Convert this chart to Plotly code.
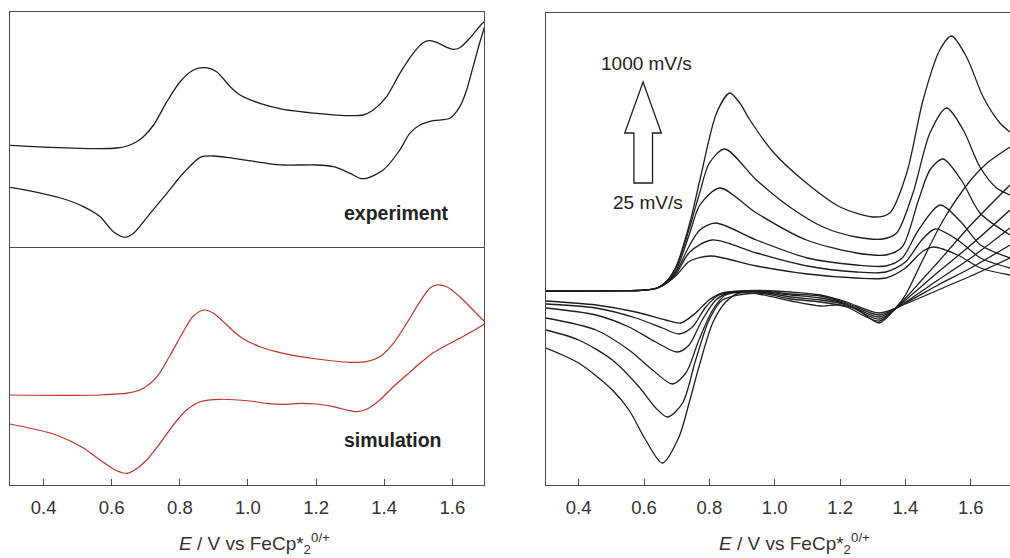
import plotly.graph_objects as go

# ---------------- data (E in V vs FeCp*2 0/+, current in arbitrary units) ----------------
# Left top: experiment (forward scan then reverse scan)
exp_fwd_E = [0.302, 0.42, 0.566, 0.615, 0.645, 0.672, 0.693, 0.723, 0.762, 0.801, 0.84, 0.876, 0.908, 0.948,
             0.977, 1.035, 1.104, 1.202, 1.30, 1.338, 1.368, 1.407, 1.446, 1.485, 1.514, 1.534, 1.554,
             1.584, 1.602, 1.622, 1.651, 1.69, 1.70]
exp_fwd_i = [101.7, 99.7, 98.4, 99.0, 101.0, 105.0, 110.3, 122.0, 145.3, 165.3, 177.0, 179.3, 175.3, 160.3,
             152.0, 143.7, 137.7, 133.7, 131.3, 132.0, 137.0, 150.3, 173.7, 193.7, 204.3, 206.3, 204.7,
             199.7, 197.7, 199.3, 208.7, 224.3, 226.0]
exp_rev_E = [1.70, 1.68, 1.661, 1.642, 1.622, 1.593, 1.544, 1.505, 1.475, 1.446, 1.397, 1.348, 1.329,
             1.30, 1.251, 1.202, 1.105, 1.055, 0.957, 0.899, 0.86, 0.81, 0.762, 0.713, 0.664, 0.64,
             0.605, 0.566, 0.517, 0.469, 0.371, 0.302]
exp_rev_i = [226.0, 203.7, 180.3, 157.0, 140.3, 128.7, 126.3, 122.0, 113.7, 97.0, 77.0, 68.7, 68.7,
             73.7, 80.3, 82.0, 82.0, 83.7, 88.7, 91.0, 89.7, 73.7, 53.7, 33.7, 13.7, 9.7,
             15.3, 30.3, 40.3, 47.0, 55.3, 59.7]

# Left bottom: simulation
sim_fwd_E = [0.302, 0.566, 0.654, 0.693, 0.733, 0.772, 0.81, 0.84, 0.871, 0.899, 0.938, 0.977, 1.035,
             1.104, 1.202, 1.30, 1.348, 1.387, 1.427, 1.466, 1.505, 1.534, 1.554, 1.584, 1.622, 1.661,
             1.69, 1.70]
sim_fwd_i = [90.0, 90.0, 92.3, 96.7, 108.3, 130.0, 153.3, 169.0, 175.0, 171.7, 160.0, 148.3, 138.3,
             131.7, 126.0, 122.7, 123.3, 128.3, 141.7, 161.7, 183.3, 196.7, 200.0, 198.3, 188.3, 175.0,
             165.0, 162.7]
sim_rev_E = [1.70, 1.69, 1.661, 1.622, 1.584, 1.544, 1.505, 1.466, 1.427, 1.387, 1.348, 1.319, 1.29,
             1.251, 1.202, 1.153, 1.104, 1.055, 1.006, 0.918, 0.86, 0.82, 0.781, 0.742, 0.703, 0.664,
             0.645, 0.615, 0.566, 0.517, 0.469, 0.42, 0.371, 0.302]
sim_rev_i = [162.7, 160.0, 154.3, 146.7, 140.0, 132.3, 121.7, 110.0, 98.3, 85.0, 75.7, 73.3, 75.0,
             78.3, 81.0, 81.7, 80.7, 81.7, 84.0, 85.7, 83.3, 75.0, 60.0, 41.7, 25.0, 14.3,
             11.7, 14.3, 25.0, 37.0, 45.5, 52.0, 56.0, 61.0]

# Right: scan-rate series, fastest (1000 mV/s) first, slowest (25 mV/s) last
scan_labels = ["1000 mV/s", "scan 2", "scan 3", "scan 4", "scan 5", "25 mV/s"]

fwd_E = [
    [0.30, 0.55, 0.60, 0.64, 0.67, 0.70, 0.74, 0.771, 0.822, 0.862, 0.893, 0.924, 0.995, 1.097, 1.20,
     1.301, 1.352, 1.404, 1.454, 1.505, 1.541, 1.587, 1.638, 1.689, 1.72],
    [0.30, 0.55, 0.60, 0.64, 0.67, 0.70, 0.74, 0.771, 0.80, 0.847, 0.944, 1.046, 1.148, 1.25, 1.331,
     1.373, 1.423, 1.475, 1.526, 1.577, 1.628, 1.679, 1.72],
    [0.30, 0.55, 0.60, 0.64, 0.67, 0.70, 0.74, 0.771, 0.832, 0.944, 1.097, 1.25, 1.34, 1.39, 1.44,
     1.475, 1.515, 1.571, 1.628, 1.72],
    [0.30, 0.55, 0.60, 0.64, 0.67, 0.70, 0.74, 0.771, 0.819, 0.944, 1.10, 1.25, 1.34, 1.39, 1.44,
     1.506, 1.57, 1.63, 1.72],
    [0.30, 0.55, 0.60, 0.64, 0.67, 0.70, 0.74, 0.808, 0.944, 1.10, 1.25, 1.34, 1.40, 1.45, 1.491,
     1.56, 1.63, 1.72],
    [0.30, 0.55, 0.60, 0.64, 0.67, 0.70, 0.74, 0.803, 0.944, 1.10, 1.25, 1.34, 1.40, 1.45, 1.486,
     1.56, 1.63, 1.72],
]
fwd_i = [
    [194, 194.3, 194.8, 197, 204, 220, 262, 305, 372, 392, 382, 365, 333, 302, 278,
     268, 272, 312, 385, 435, 449, 428, 388, 362, 353],
    [194, 194.3, 194.8, 197, 204, 219, 258, 293, 322, 336, 305, 278, 258, 248, 246,
     252, 292, 352, 377, 355, 318, 297, 290],
    [194, 194.3, 194.8, 197, 203, 216, 252, 280, 297, 272, 245, 232, 230, 238, 285,
     315, 326, 305, 272, 250],
    [194, 194.3, 194.8, 197, 203, 214, 240, 255, 262, 245, 227, 220, 219, 227, 255,
     280, 263, 240, 227],
    [194, 194.3, 194.8, 197, 202, 212, 233, 245, 232, 219, 213, 213, 223, 245, 256,
     245, 227, 217],
    [194, 194.3, 194.8, 196.5, 202, 210, 224, 229, 219, 211, 207, 207, 217, 233, 238,
     230, 217, 210],
]
rev_E = [
    [1.72, 1.65, 1.60, 1.516, 1.45, 1.40, 1.37, 1.32, 1.25, 1.20, 1.14, 1.05, 0.95, 0.891, 0.85, 0.81,
     0.768, 0.738, 0.707, 0.656, 0.605, 0.554, 0.503, 0.40, 0.30],
    [1.72, 1.60, 1.50, 1.45, 1.40, 1.32, 1.22, 1.14, 1.05, 0.95, 0.84, 0.799, 0.758, 0.718, 0.672,
     0.636, 0.585, 0.503, 0.40, 0.30],
    [1.72, 1.60, 1.50, 1.40, 1.32, 1.22, 1.14, 1.05, 0.95, 0.85, 0.81, 0.768, 0.728, 0.687, 0.626,
     0.554, 0.453, 0.30],
    [1.72, 1.60, 1.50, 1.40, 1.32, 1.22, 1.14, 1.05, 0.95, 0.86, 0.82, 0.778, 0.738, 0.702, 0.636,
     0.554, 0.453, 0.30],
    [1.72, 1.60, 1.50, 1.40, 1.32, 1.22, 1.14, 1.05, 0.95, 0.83, 0.789, 0.748, 0.707, 0.656, 0.575,
     0.453, 0.30],
    [1.72, 1.60, 1.50, 1.40, 1.32, 1.22, 1.14, 1.05, 0.95, 0.84, 0.799, 0.758, 0.712, 0.666,
     0.575, 0.453, 0.30],
]
rev_i = [
    [338, 322, 305, 265, 223, 190, 177, 162, 176, 180, 179, 184, 191, 192, 183, 162,
     118, 82, 48, 22, 45, 75, 95, 122, 137],
    [300, 260, 223, 205, 187, 164, 178, 183, 186, 192, 185, 165, 125, 82, 68,
     77, 98, 125, 145, 155],
    [275, 240, 213, 185, 166, 180, 185, 188, 193, 190, 175, 145, 112, 101, 115,
     135, 155, 167],
    [257, 227, 205, 183, 168, 181, 187, 190, 193.5, 192, 185, 165, 140, 133, 143,
     158, 170, 177],
    [240, 217, 200, 182, 170, 182, 189, 191, 194, 190, 178, 158, 151, 157, 167,
     177, 181],
    [227, 209, 195, 181, 172, 183, 190, 193, 194.5, 192, 185, 172, 162, 165,
     173, 180, 184],
]

tick_vals = [0.4, 0.6, 0.8, 1.0, 1.2, 1.4, 1.6]
tick_text = ["0.4", "0.6", "0.8", "1.0", "1.2", "1.4", "1.6"]

# ---------------- styling / layout ----------------
W, H = 1010, 558
FONT = "Liberation Sans, Arial, sans-serif"
AXC = "#4a4a4a"
BLACK = "#1e1e1e"
RED = "#c0362c"


def px_x(p):
    return p / W


def px_y(p):
    return 1 - p / H


fig = go.Figure()

line_blk = dict(color=BLACK, width=1.3, shape="spline", smoothing=0.8)
line_red = dict(color=RED, width=1.2, shape="spline", smoothing=0.8)

fig.add_trace(go.Scatter(x=exp_fwd_E + exp_rev_E, y=exp_fwd_i + exp_rev_i, mode="lines",
                         line=line_blk, xaxis="x", yaxis="y", name="experiment"))
fig.add_trace(go.Scatter(x=sim_fwd_E + sim_rev_E, y=sim_fwd_i + sim_rev_i, mode="lines",
                         line=line_red, xaxis="x2", yaxis="y2", name="simulation"))

for k in range(len(scan_labels)):
    fig.add_trace(go.Scatter(x=fwd_E[k], y=fwd_i[k], mode="lines", line=line_blk,
                             xaxis="x3", yaxis="y3", name=scan_labels[k]))
    fig.add_trace(go.Scatter(x=rev_E[k], y=rev_i[k], mode="lines", line=line_blk,
                             xaxis="x3", yaxis="y3", name=scan_labels[k], showlegend=False))

left_dom = [px_x(9.5), px_x(484)]
right_dom = [px_x(546), 1.0]

common_x = dict(showgrid=False, zeroline=False, showline=True, linecolor=AXC, linewidth=1.4)
tick_x = dict(ticks="inside", ticklen=6, tickwidth=1.3, tickcolor=AXC, tickvals=tick_vals,
              ticktext=tick_text, tickfont=dict(family=FONT, size=18.5, color="#333333"),
              ticklabelstandoff=6)
common_y = dict(showgrid=False, zeroline=False, showticklabels=False, ticks="",
                showline=True, linecolor=AXC, linewidth=1.4)

fig.update_layout(
    width=W, height=H, margin=dict(l=0, r=0, t=0, b=0),
    paper_bgcolor="white", plot_bgcolor="white", showlegend=False,
    xaxis=dict(domain=left_dom, range=[0.3, 1.693], mirror=True, showticklabels=False,
               ticks="", anchor="y", **common_x),
    yaxis=dict(domain=[px_y(247), px_y(12)], range=[0, 235], mirror=True, anchor="x", **common_y),
    xaxis2=dict(domain=left_dom, range=[0.3, 1.693], mirror=False, anchor="y2", **common_x, **tick_x),
    yaxis2=dict(domain=[px_y(485), px_y(247)], range=[0, 238], mirror=True, anchor="x2", **common_y),
    xaxis3=dict(domain=right_dom, range=[0.3, 1.72], mirror=True, anchor="y3", **common_x, **tick_x),
    yaxis3=dict(domain=[px_y(485), px_y(13)], range=[0, 472], mirror=False, anchor="x3", **common_y),
)

title_txt = "<i>E</i> / V vs FeCp*<sub>2</sub><sup>0/+</sup>"
annots = [
    dict(x=px_x(254), y=px_y(543), text=title_txt, font=dict(family=FONT, size=19, color="#333333")),
    dict(x=px_x(794), y=px_y(543), text=title_txt, font=dict(family=FONT, size=19, color="#333333")),
    dict(x=px_x(396), y=px_y(213), text="<b>experiment</b>", font=dict(family=FONT, size=19.5, color="#222222")),
    dict(x=px_x(393), y=px_y(440), text="<b>simulation</b>", font=dict(family=FONT, size=19.5, color="#222222")),
    dict(x=px_x(646), y=px_y(63), text="1000 mV/s", font=dict(family=FONT, size=19, color="#222222")),
    dict(x=px_x(648), y=px_y(202), text="25 mV/s", font=dict(family=FONT, size=19, color="#222222")),
]
for a in annots:
    fig.add_annotation(xref="paper", yref="paper", showarrow=False, xanchor="center", yanchor="middle", **a)

# hollow up-arrow between the two scan-rate labels (in right-panel data coordinates)
arrow_path = ("M 0.597 403 L 0.541 352 L 0.569 352 L 0.569 302 L 0.626 302 "
              "L 0.626 352 L 0.653 352 Z")
fig.add_shape(type="path", path=arrow_path, xref="x3", yref="y3",
              line=dict(color=BLACK, width=1.3), fillcolor="white")

fig.write_html("out.html")
